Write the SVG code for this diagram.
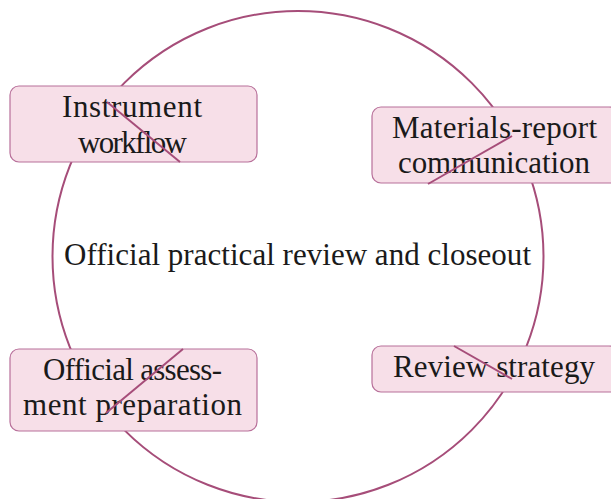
<svg xmlns="http://www.w3.org/2000/svg" width="611" height="499" viewBox="0 0 611 499">
<style>
.ring{fill:none;stroke:#a64d79;stroke-width:2}
.box{fill:#f7dfe8;stroke:#b8709a;stroke-width:1.2}
.lbl{font-family:"Liberation Serif","DejaVu Serif",serif;font-size:31px;fill:#1a1a1a;text-anchor:middle}
.con{stroke:#a64d79;stroke-width:2;fill:none}
</style>
<rect width="611" height="499" fill="#ffffff"/>
<g id="center">
<circle class="ring" cx="298" cy="256.5" r="245.5"/>
<text class="lbl" x="297.5" y="265" textLength="467" lengthAdjust="spacing">Official practical review and closeout</text>
</g>
<g id="node-instrument">
<rect class="box" x="10" y="86" width="247" height="76" rx="9"/>
<text class="lbl" x="132" y="116.5" textLength="140" lengthAdjust="spacing">Instrument</text>
<text class="lbl" x="132.5" y="152.5" textLength="109" lengthAdjust="spacing">workflow</text>
</g>
<g id="node-materials">
<rect class="box" x="372" y="107" width="246" height="76" rx="9"/>
<text class="lbl" x="494.5" y="138.3" textLength="205" lengthAdjust="spacing">Materials-report</text>
<text class="lbl" x="494" y="173.3" textLength="192" lengthAdjust="spacing">communication</text>
</g>
<g id="node-assessment">
<rect class="box" x="10" y="349" width="247" height="82" rx="9"/>
<text class="lbl" x="132.5" y="380" textLength="179" lengthAdjust="spacing">Official assess-</text>
<text class="lbl" x="132.5" y="415" textLength="219" lengthAdjust="spacing">ment preparation</text>
</g>
<g id="node-review">
<rect class="box" x="372" y="346" width="246" height="46" rx="9"/>
<text class="lbl" x="494" y="376.7" textLength="202" lengthAdjust="spacing">Review strategy</text>
</g>
<g id="connectors">
<line class="con" x1="107" y1="102" x2="180" y2="162"/>
<line class="con" x1="512" y1="136" x2="428" y2="184"/>
<line class="con" x1="183" y1="349" x2="106" y2="413"/>
<line class="con" x1="454" y1="346" x2="512" y2="379"/>
</g>
</svg>
